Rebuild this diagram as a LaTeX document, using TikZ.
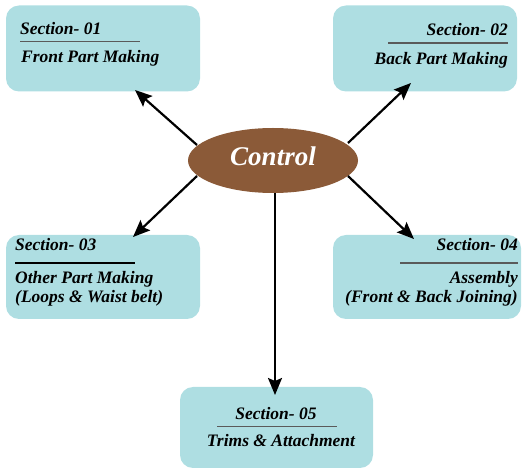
\documentclass[tikz,border=0pt]{standalone}
\usepackage{fontspec}
\setmainfont{Liberation Serif}
\usetikzlibrary{calc}
\usetikzlibrary{arrows.meta, shapes, positioning}
\definecolor{boxcyan}{RGB}{174,222,226}
\definecolor{ctrlbrown}{RGB}{139,90,56}
\definecolor{ulgray}{RGB}{90,90,90}

\begin{document}
\begin{tikzpicture}[x=1pt, y=-1pt]
   \tikzstyle{secbox}=[rectangle, rounded corners=13pt, fill=boxcyan, inner sep=0pt]
   \tikzstyle{ctrl}=[ellipse, fill=ctrlbrown, inner sep=0pt, minimum width=170pt, minimum height=65pt]
   \tikzstyle{stxt}=[inner sep=0pt, font=\fontsize{17.5}{20}\selectfont\bfseries\itshape, text=black]
   \tikzstyle{uline}=[ulgray, line width=1.5pt]
   \tikzstyle{link}=[line width=2.2pt, -{Stealth[length=17pt,width=14pt,inset=3pt]}]
   \useasboundingbox (0,0) rectangle (523,470);

   % section boxes
   \draw (103,48.5) node[secbox, minimum width=194pt, minimum height=86pt] (b1) {};
   \draw (425,48.5) node[secbox, minimum width=184pt, minimum height=86pt] (b2) {};
   \draw (103,277) node[secbox, minimum width=194pt, minimum height=84pt] (b3) {};
   \draw (427,277) node[secbox, minimum width=188pt, minimum height=84pt] (b4) {};
   \draw (276.5,427.5) node[secbox, minimum width=193pt, minimum height=81pt] (b5) {};

   % control node
   \draw (273,160.5) node[ctrl] (c) {};
   \draw (273,166) node[anchor=base, inner sep=0pt, text=white, font=\fontsize{27}{30}\selectfont\bfseries\itshape] (ctxt) {Control};

   % Section 01
   \draw (20,35) node[stxt, anchor=base west] (s1) {Section- 01};
   \draw[uline] (20,41.5) -- (140,41.5);
   \draw (21,63) node[stxt, anchor=base west] (t1) {Front Part Making};
   % Section 02
   \draw (508,36) node[stxt, anchor=base east] (s2) {Section- 02};
   \draw[uline] (388,43) -- (508,43);
   \draw (508,65) node[stxt, anchor=base east] (t2) {Back Part Making};
   % Section 03
   \draw (15,251) node[stxt, anchor=base west] (s3) {Section- 03};
   \draw[uline, black] (15,263) -- (135,263);
   \draw (15,284) node[stxt, anchor=base west] (t3) {Other Part Making};
   \draw (15,303) node[stxt, anchor=base west] (u3) {(Loops \& Waist belt)};
   % Section 04
   \draw (518,251) node[stxt, anchor=base east] (s4) {Section- 04};
   \draw[uline] (400,263) -- (518,263);
   \draw (518,284) node[stxt, anchor=base east] (t4) {Assembly};
   \draw (518,303) node[stxt, anchor=base east] (u4) {(Front \& Back Joining)};
   % Section 05
   \draw (276,420) node[stxt, anchor=base] (s5) {Section- 05};
   \draw[uline] (217,426.5) -- (337,426.5);
   \draw (281,447) node[stxt, anchor=base] (t5) {Trims \& Attachment};

   % arrow ends
   \coordinate (o1) at (197,145);
   \coordinate (o2) at (348,143);
   \coordinate (o3) at (197,176);
   \coordinate (o4) at (348,176);
   \coordinate (o5) at (275,193);
   \coordinate (e1) at (135,90);
   \coordinate (e2) at (411,83);
   \coordinate (e3) at (133,237);
   \coordinate (e4) at (414,239);
   \coordinate (e5) at (275,395);

   % links
   \draw[link] (o1) -- (e1);
   \draw[link] (o2) -- (e2);
   \draw[link] (o3) -- (e3);
   \draw[link] (o4) -- (e4);
   \draw[link] (o5) -- (e5);
\end{tikzpicture}
\end{document}
